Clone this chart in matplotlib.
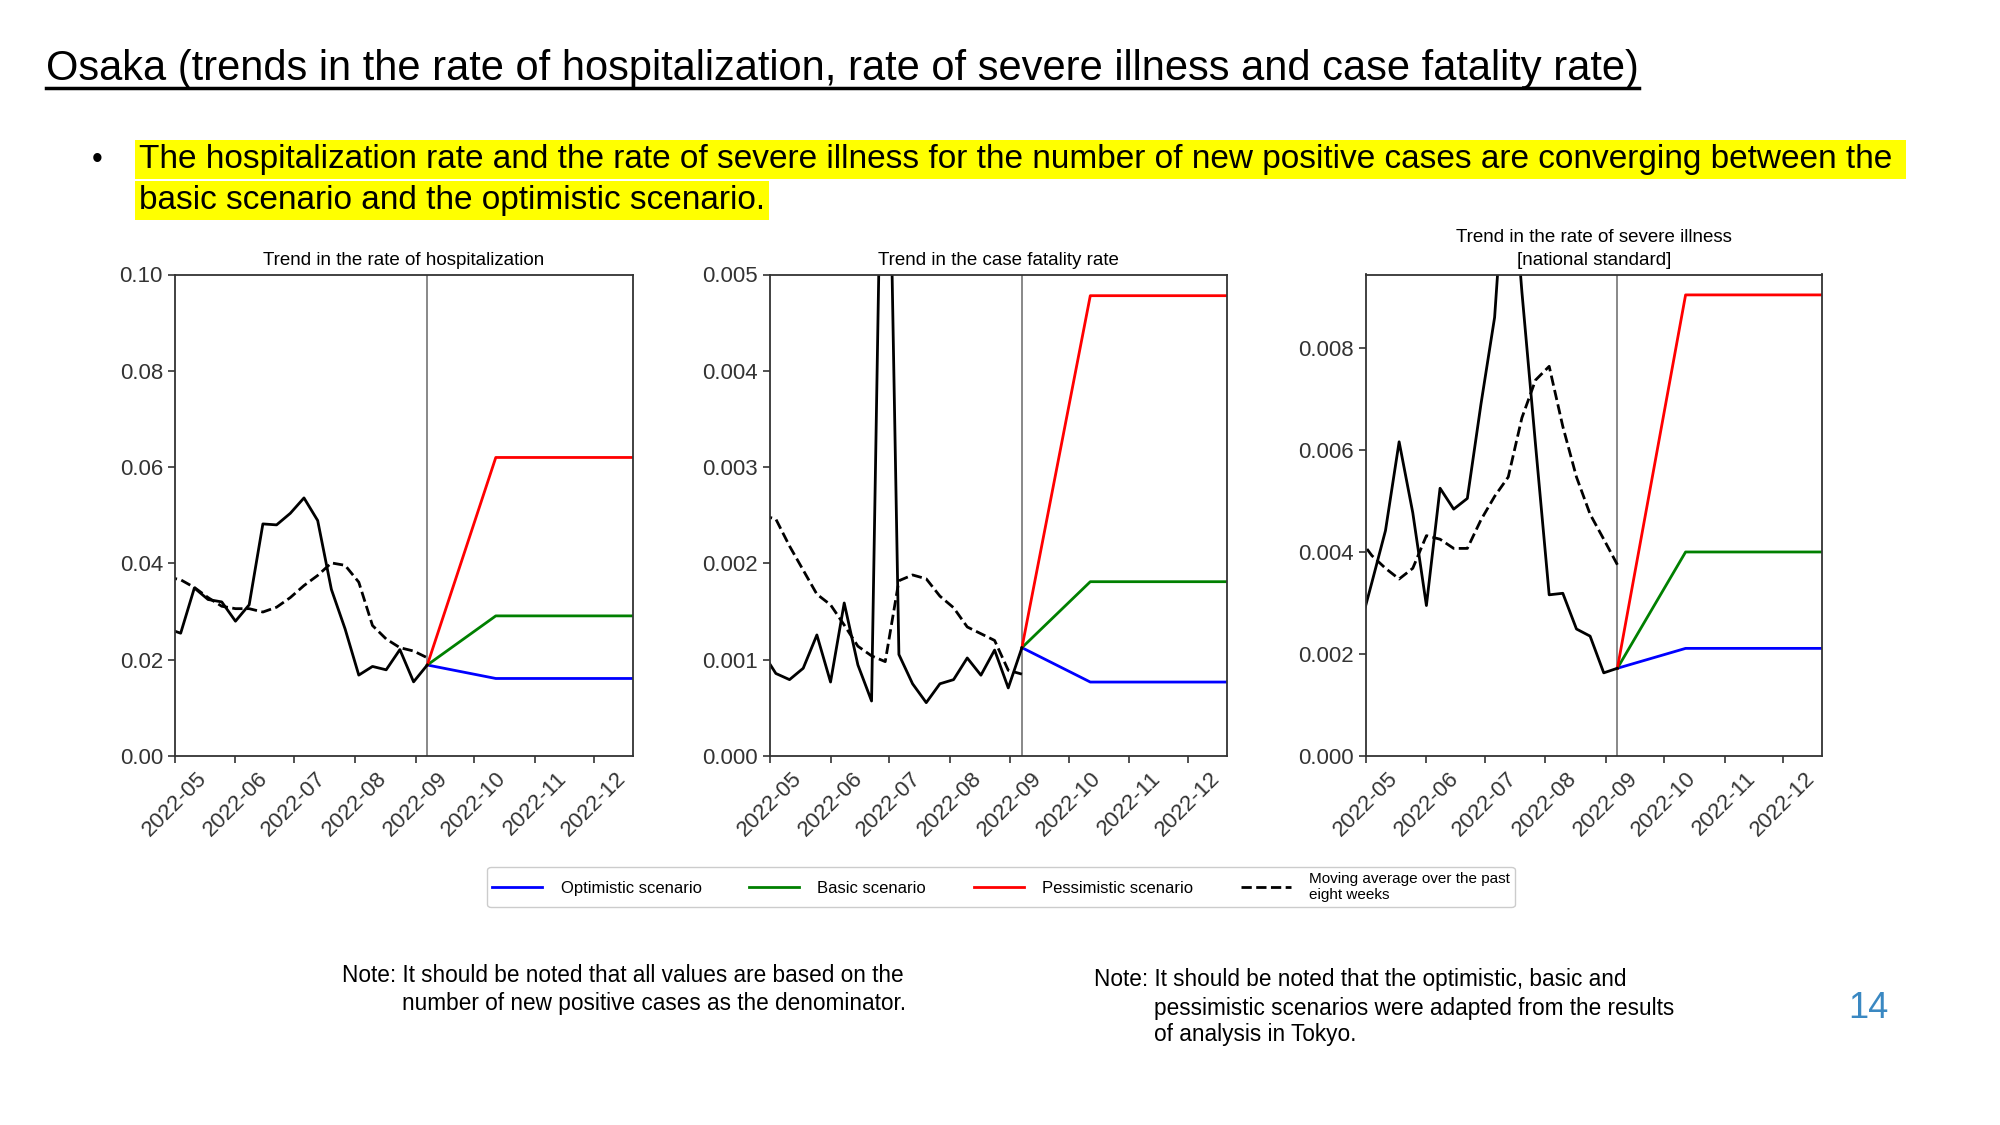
import matplotlib
matplotlib.use('Agg')
import matplotlib.pyplot as plt
import matplotlib.dates as mdates
from matplotlib.lines import Line2D
import numpy as np

plt.rcParams['font.family'] = ['Liberation Sans', 'DejaVu Sans']

# weekly observed points (last one is where the scenarios start)
week_dates = ['2022-04-27', '2022-05-04', '2022-05-11', '2022-05-18', '2022-05-25',
              '2022-06-01', '2022-06-08', '2022-06-15', '2022-06-22', '2022-06-29',
              '2022-07-06', '2022-07-13', '2022-07-20', '2022-07-27', '2022-08-03',
              '2022-08-10', '2022-08-17', '2022-08-24', '2022-08-31', '2022-09-07']
scenario_dates = ['2022-09-07', '2022-10-12', '2022-12-31']

hosp_weekly = [0.0265, 0.0255, 0.0349, 0.0325, 0.0320, 0.0280, 0.0314, 0.0482, 0.0480, 0.0504,
               0.0536, 0.0489, 0.0346, 0.0264, 0.0168, 0.0186, 0.0179, 0.0221, 0.0154, 0.0189]
hosp_ma = [0.0372, 0.0366, 0.0350, 0.0329, 0.0311, 0.0306, 0.0306, 0.0299, 0.0309, 0.0329,
           0.0354, 0.0375, 0.0401, 0.0396, 0.0361, 0.0271, 0.0243, 0.0225, 0.0218, 0.0204]
hosp_opt = [0.0189, 0.0161, 0.0161]
hosp_basic = [0.0189, 0.0291, 0.0291]
hosp_pess = [0.0189, 0.0620, 0.0620]

fatal_weekly = [0.00108, 0.000857, 0.000793, 0.000911, 0.001257, 0.000768, 0.001589, 0.000946,
                0.000571, 0.0090, 0.001054, 0.00075, 0.000554, 0.00075, 0.000793, 0.001018,
                0.000839, 0.0011, 0.000707, 0.001125]
fatal_ma = [0.00250, 0.00246, 0.00218, 0.00193, 0.00168, 0.00157, 0.00136, 0.00114, 0.00104,
            0.00098, 0.00182, 0.00188, 0.00184, 0.00166, 0.00154, 0.00134, 0.00127, 0.00120,
            0.00089, 0.00085]
fatal_opt = [0.001125, 0.000768, 0.000768]
fatal_basic = [0.001125, 0.00181, 0.00181]
fatal_pess = [0.001125, 0.00478, 0.00478]

severe_weekly = [0.0024, 0.0034, 0.00442, 0.00616, 0.00477, 0.00295, 0.00525, 0.00484, 0.00505,
                 0.0069, 0.0086, 0.0125, 0.0091, 0.0061, 0.00316, 0.00319, 0.00249, 0.00235,
                 0.00163, 0.00172]
severe_ma = [0.00429, 0.00393, 0.00368, 0.00347, 0.00368, 0.00432, 0.00425, 0.00407, 0.00407,
             0.00463, 0.00509, 0.00547, 0.00663, 0.00737, 0.00764, 0.00646, 0.00547, 0.00474,
             0.00425, 0.00375]
severe_opt = [0.00172, 0.00211, 0.00211]
severe_basic = [0.00172, 0.0040, 0.0040]
severe_pess = [0.00172, 0.00904, 0.00904]

panel_titles = ['Trend in the rate of hospitalization',
                'Trend in the case fatality rate',
                'Trend in the rate of severe illness\n[national standard]']
legend_labels = ['Optimistic scenario', 'Basic scenario', 'Pessimistic scenario',
                 'Moving average over the past\neight weeks']

wd = np.array(week_dates, dtype='datetime64[D]')
sd = np.array(scenario_dates, dtype='datetime64[D]')

panels = [
    (hosp_weekly, hosp_ma, hosp_opt, hosp_basic, hosp_pess, np.arange(0, 0.101, 0.02), '%.2f', 0.10),
    (fatal_weekly, fatal_ma, fatal_opt, fatal_basic, fatal_pess, np.arange(0, 0.0051, 0.001), '%.3f', 0.005),
    (severe_weekly, severe_ma, severe_opt, severe_basic, severe_pess, np.arange(0, 0.0081, 0.002), '%.3f', 0.00944),
]
axes_rects = [[0.0874, 0.328, 0.229, 0.428],
              [0.385, 0.328, 0.2285, 0.428],
              [0.683, 0.328, 0.228, 0.428]]

fig = plt.figure(figsize=(20, 11.25), dpi=100)

for (weekly, ma, opt, basic, pess, yt, fmt, ytop), rect, title in zip(panels, axes_rects, panel_titles):
    ax = fig.add_axes(rect)
    ax.axvline(sd[0], color='#888888', lw=1.4, zorder=1)
    ax.plot(sd, opt, color='blue', lw=2)
    ax.plot(sd, basic, color='green', lw=2)
    ax.plot(sd, pess, color='red', lw=2)
    ax.plot(wd, weekly, color='black', lw=2)
    ax.plot(wd, ma, color='black', lw=2, ls='--')
    ax.set_xlim(np.datetime64('2022-05-01'), np.datetime64('2022-12-21'))
    ax.set_ylim(0, ytop)
    ax.set_yticks(yt)
    ax.yaxis.set_major_formatter(matplotlib.ticker.FormatStrFormatter(fmt))
    ax.xaxis.set_major_locator(mdates.MonthLocator())
    ax.xaxis.set_major_formatter(mdates.DateFormatter('%Y-%m'))
    ax.tick_params(axis='x', labelrotation=45)
    ax.tick_params(labelsize=16, colors='#333333', length=5, width=1.2)
    for s in ax.spines.values():
        s.set_color('#333333')
        s.set_linewidth(1.3)
    ax.set_title(title, fontsize=13.5, pad=7, linespacing=1.45)

# legend
handles = [Line2D([], [], color='blue', lw=2),
           Line2D([], [], color='green', lw=2),
           Line2D([], [], color='red', lw=2),
           Line2D([], [], color='black', lw=2, ls='--')]
leg = fig.legend(handles, legend_labels, ncol=4, loc='center', bbox_to_anchor=(0.5005, 0.2114),
                 fontsize=12, handlelength=3.0, columnspacing=2.85, handletextpad=1.1,
                 borderpad=0.3, framealpha=1, edgecolor='#cccccc')
leg.get_texts()[3].set_fontsize(11)

# header text
title = fig.text(0.023, 0.939, 'Osaka (trends in the rate of hospitalization, rate of severe illness and case fatality rate)',
                 fontsize=30, va='center', ha='left')
fig.text(0.046, 0.858, '\u2022', fontsize=22, va='center', ha='left')
hl = dict(facecolor='#FFFF00', edgecolor='none', pad=3)
fig.text(0.0695, 0.858, 'The hospitalization rate and the rate of severe illness for the number of new positive cases are converging between the ',
         fontsize=24, va='center', ha='left', bbox=hl)
fig.text(0.0695, 0.822, 'basic scenario and the optimistic scenario.',
         fontsize=24, va='center', ha='left', bbox=hl)

# notes
fig.text(0.171, 0.133, 'Note: It should be noted that all values are based on the', fontsize=16.3, va='center')
fig.text(0.201, 0.108, 'number of new positive cases as the denominator.', fontsize=16.3, va='center')
fig.text(0.547, 0.129, 'Note: It should be noted that the optimistic, basic and', fontsize=16.3, va='center')
fig.text(0.577, 0.104, 'pessimistic scenarios were adapted from the results', fontsize=16.3, va='center')
fig.text(0.577, 0.0805, 'of analysis in Tokyo.', fontsize=16.3, va='center')
fig.text(0.924, 0.104, '14', fontsize=26, color='#3A88C2', va='center')

# underline the header
fig.canvas.draw()
bb = title.get_window_extent().transformed(fig.transFigure.inverted())
fig.add_artist(Line2D([bb.x0, bb.x1], [0.922, 0.922], color='black', lw=2.5, transform=fig.transFigure))

fig.savefig('out.png', dpi=100)
